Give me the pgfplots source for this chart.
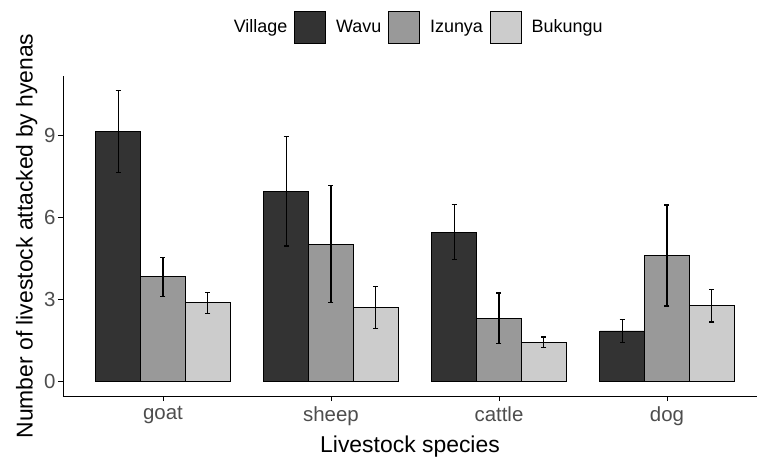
\documentclass[border=0pt]{standalone}
\usepackage{fontspec}
\setmainfont{Liberation Sans}
\usepackage{pgfplots}
\pgfplotsset{compat=1.18}
\definecolor{wavu}{HTML}{333333}
\definecolor{izunya}{HTML}{999999}
\definecolor{bukungu}{HTML}{CCCCCC}
\definecolor{tickgrey}{HTML}{4D4D4D}
\begin{document}
\begin{tikzpicture}
\useasboundingbox (-63bp,-61bp) rectangle (694bp,396bp);
\begin{axis}[at={(0,0)}, anchor=south west, scale only axis,
 width=694bp, height=320bp,
 xmin=0.405, xmax=4.536, ymin=-0.53, ymax=11.18,
 axis lines*=left, axis line style={black, line width=0.9bp},
 xtick={1,2,3,4}, xticklabels={goat,sheep,cattle,dog},
 ytick={0,3,6,9},
 tick align=outside, major tick length=5bp, tick style={black, line width=0.9bp},
 ticklabel style={font=\fontsize{20.5}{20.5}\selectfont, text=tickgrey},
 xticklabel style={yshift=-2bp},
 yticklabel style={xshift=1bp},
 /pgf/number format/assume math mode=true,
 xlabel={Livestock species}, ylabel={Number of livestock attacked by hyenas},
 label style={font=\fontsize{23}{23}\selectfont},
 xlabel style={yshift=-3bp},
 ybar, bar width=0.26667,
 legend columns=-1,
 legend style={at={(0.506,1.153)}, anchor=center, draw=none, fill=none,
   font=\fontsize{18}{18}\selectfont,
   /tikz/every odd column/.append style={column sep=8bp},
   /tikz/every even column/.append style={column sep=5bp}},
 mylegend/.style={legend image code/.code={\draw[##1, draw=black, line width=0.8bp] (0bp,-16bp) rectangle (31bp,16bp);}},
]
\addlegendimage{empty legend}
\addlegendentry{Village}
\addplot[bar shift=-0.26667, fill=wavu, draw=black, line width=0.8bp, mylegend,
  error bars/.cd, y dir=both, y explicit,
  error bar style={line width=1.2bp, black},
  error mark options={rotate=90, mark size=2.5bp, line width=1.2bp, black}]
 coordinates {(1,9.15) +- (0,1.51) (2,6.97) +- (0,2.01) (3,5.47) +- (0,1.00) (4,1.85) +- (0,0.41)};
\addlegendentry{Wavu}
\addplot[bar shift=0, fill=izunya, draw=black, line width=0.8bp, mylegend,
  error bars/.cd, y dir=both, y explicit,
  error bar style={line width=1.2bp, black},
  error mark options={rotate=90, mark size=2.5bp, line width=1.2bp, black}]
 coordinates {(1,3.83) +- (0,0.72) (2,5.03) +- (0,2.15) (3,2.32) +- (0,0.92) (4,4.61) +- (0,1.85)};
\addlegendentry{Izunya}
\addplot[bar shift=0.26667, fill=bukungu, draw=black, line width=0.8bp, mylegend,
  error bars/.cd, y dir=both, y explicit,
  error bar style={line width=1.2bp, black},
  error mark options={rotate=90, mark size=2.5bp, line width=1.2bp, black}]
 coordinates {(1,2.88) +- (0,0.38) (2,2.71) +- (0,0.78) (3,1.44) +- (0,0.19) (4,2.77) +- (0,0.59)};
\addlegendentry{Bukungu}
\end{axis}
\end{tikzpicture}
\end{document}
